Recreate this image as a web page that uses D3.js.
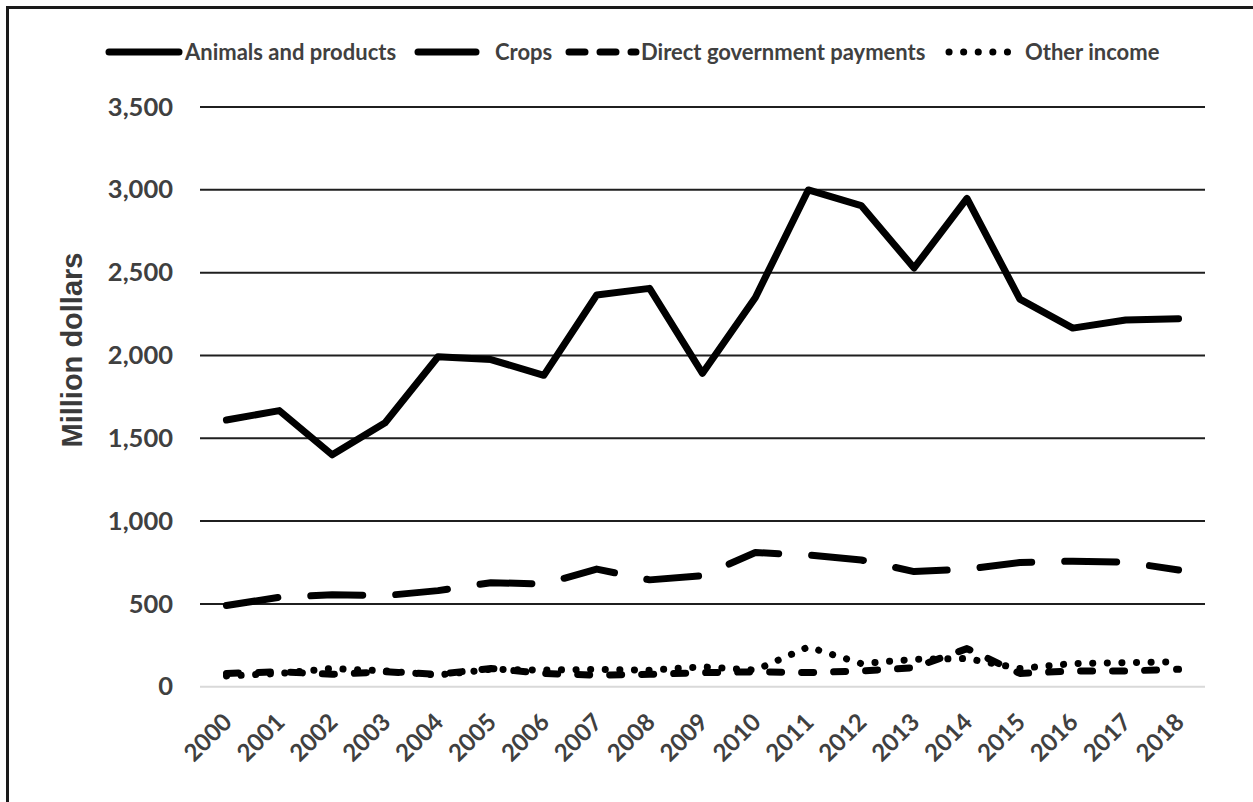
<!DOCTYPE html>
<html>
<head>
<meta charset="utf-8">
<script src="https://cdn.jsdelivr.net/npm/d3@7"></script>
<style>
  html, body { margin: 0; padding: 0; background: #fff; }
  svg { display: block; }
  text { font-family: Lato, "Open Sans", sans-serif; font-weight: 700; fill: #404040; }
</style>
</head>
<body>
<svg id="chart" width="1253" height="802"></svg>
<script>
// Farm income sources, million dollars
const years = ["2000","2001","2002","2003","2004","2005","2006","2007","2008","2009",
               "2010","2011","2012","2013","2014","2015","2016","2017","2018"];
const animalsAndProducts = [1610, 1667, 1400, 1594, 1992, 1975, 1880, 2365, 2405, 1892,
                            2350, 2999, 2905, 2528, 2948, 2340, 2165, 2214, 2222];
const crops = [490, 540, 555, 550, 580, 628, 620, 710, 645, 670,
               810, 795, 765, 695, 710, 750, 758, 752, 705];
const directGovernmentPayments = [80, 90, 75, 90, 75, 110, 80, 70, 75, 85,
                                  90, 85, 95, 115, 230, 80, 95, 95, 105];
const otherIncome = [65, 80, 110, 95, 70, 105, 100, 105, 100, 120,
                     100, 240, 140, 165, 170, 110, 140, 145, 150];
const yTicks = [0, 500, 1000, 1500, 2000, 2500, 3000, 3500];
const seriesNames = ["Animals and products", "Crops", "Direct government payments", "Other income"];

const series = [
  { name: seriesNames[0], values: animalsAndProducts, dash: null, legendDash: null },
  { name: seriesNames[1], values: crops, dash: "52,33", legendDash: null },
  { name: seriesNames[2], values: directGovernmentPayments, dash: "12,20", legendDash: "16,15" },
  { name: seriesNames[3], values: otherIncome, dash: "0.1,14.5", legendDash: "0.1,14.5" }
];

const svg = d3.select("#chart");

// outer frame (runs off the right and bottom edges)
svg.append("rect")
  .attr("x", 7.5).attr("y", 7.5)
  .attr("width", 1400).attr("height", 1000)
  .attr("fill", "none").attr("stroke", "#1a1a1a").attr("stroke-width", 3);

const plot = { left: 200, right: 1205, top: 107, bottom: 686.7 };

const x = d3.scaleBand().domain(years).range([plot.left, plot.right]).padding(0);
const cx = d => x(d) + x.bandwidth() / 2;
const y = d3.scaleLinear().domain([0, 3500]).range([plot.bottom, plot.top]);

// horizontal gridlines
svg.append("g").selectAll("line").data(yTicks).join("line")
  .attr("x1", plot.left).attr("x2", plot.right)
  .attr("y1", d => y(d)).attr("y2", d => y(d))
  .attr("stroke", d => d === 0 ? "#d9d9d9" : "#1f1f1f")
  .attr("stroke-width", 2);

// y axis labels
const yAxis = d3.axisLeft(y).tickValues(yTicks).tickFormat(d3.format(",")).tickSize(0).tickPadding(0);
const gy = svg.append("g").attr("transform", "translate(173,0)").call(yAxis);
gy.select(".domain").remove();
gy.selectAll("text")
  .attr("font-size", 25.5)
  .attr("fill", "#404040");

// x axis labels, rotated
const gx = svg.append("g");
gx.selectAll("text").data(years).join("text")
  .attr("transform", d => `translate(${cx(d) + 1},${plot.bottom + 31}) rotate(-45)`)
  .attr("text-anchor", "end")
  .attr("dy", "0.35em")
  .attr("font-size", 24)
  .text(d => d);

// y axis title
svg.append("text")
  .attr("transform", "translate(82,350) rotate(-90)")
  .attr("text-anchor", "middle")
  .style("font-family", "'Liberation Sans', Arial, sans-serif")
  .style("font-weight", "700")
  .style("fill", "#3a3a3a")
  .attr("font-size", 29)
  .text("Million dollars");

// series lines
const line = d3.line().x((v, i) => cx(years[i])).y(v => y(v));
svg.append("g").selectAll("path").data(series).join("path")
  .attr("d", s => line(s.values))
  .attr("fill", "none")
  .attr("stroke", "#000")
  .attr("stroke-width", 7)
  .attr("stroke-linecap", "round")
  .attr("stroke-linejoin", "round")
  .attr("stroke-dasharray", s => s.dash);

// legend
const legendItems = [
  { s: series[0], x1: 109, x2: 179, tx: 185 },
  { s: series[1], x1: 418, x2: 476, tx: 495 },
  { s: series[2], x1: 569, x2: 636, tx: 641 },
  { s: series[3], x1: 949, x2: 1020, tx: 1025 }
];
const lg = svg.append("g");
legendItems.forEach(it => {
  lg.append("line")
    .attr("x1", it.x1).attr("x2", it.x2).attr("y1", 52).attr("y2", 52)
    .attr("stroke", "#000").attr("stroke-width", 7)
    .attr("stroke-linecap", "round")
    .attr("stroke-dasharray", it.s.legendDash);
  lg.append("text")
    .attr("x", it.tx).attr("y", 52).attr("dy", "0.35em")
    .attr("font-size", 22)
    .text(it.s.name);
});
</script>
</body>
</html>
